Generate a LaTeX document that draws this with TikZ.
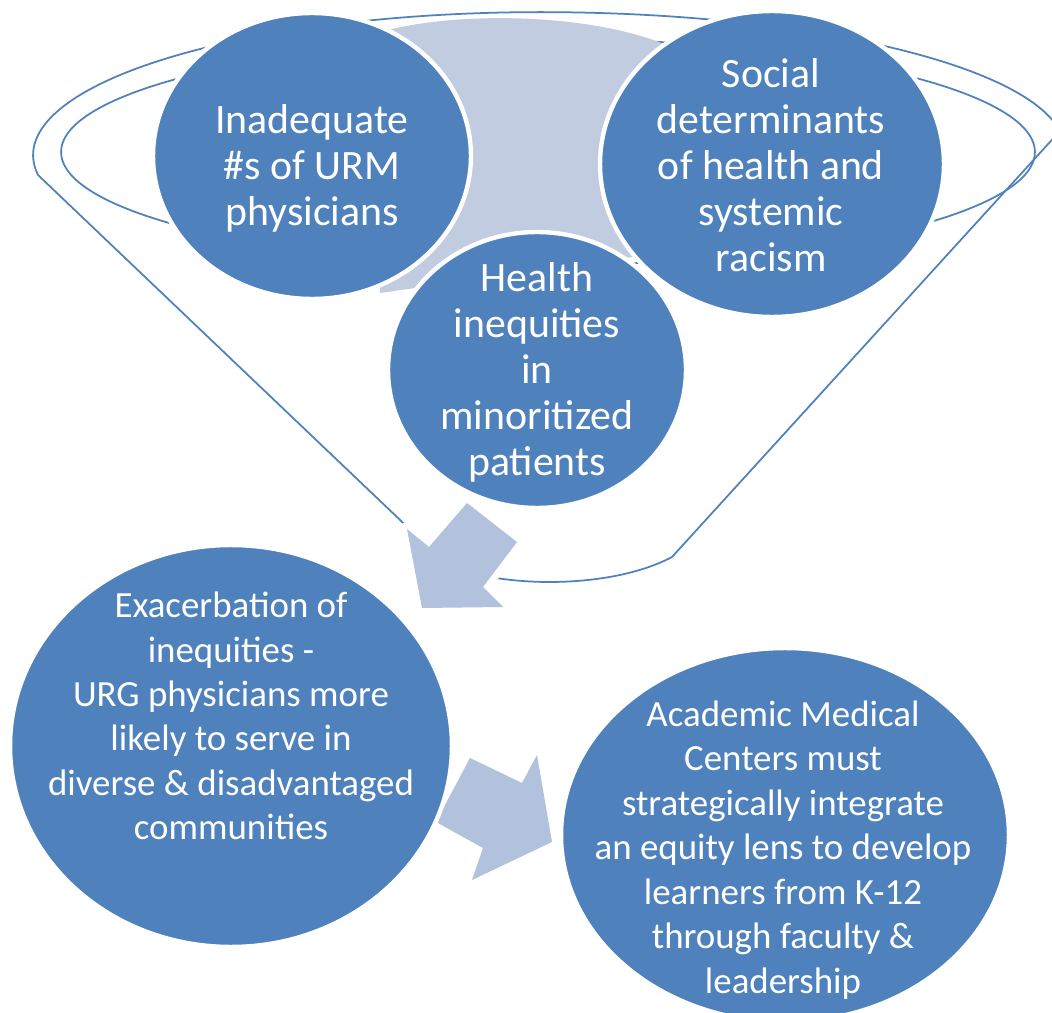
\documentclass[tikz,border=0pt]{standalone}
\usepackage{fontspec}
\setmainfont{Carlito}
\usepackage{tikz}
\usetikzlibrary{shapes.geometric}
\definecolor{discblue}{RGB}{79,129,189}
\definecolor{mouth}{RGB}{194,204,225}
\definecolor{flowblue}{RGB}{178,193,220}
\tikzset{%
  disc/.style      = {ellipse, fill=discblue, draw=white, line width=2.5pt,
    inner sep=0pt},
  words/.style     = {text=white, align=center,
    font=\fontsize{23.8}{26.2}\selectfont}, % funnel circles
  bigwords/.style  = {text=white, align=center,
    font=\fontsize{21}{25.3}\selectfont}, % outcome circles
  rim/.style       = {draw=discblue, line width=1pt},
  flow/.style      = {fill=flowblue,
    preaction={draw=white, line width=8pt, line join=round}}
}

\begin{document}
\begin{tikzpicture}[x=0.02cm, y=-0.02cm]
\clip (0,0) rectangle (1052,1013);
% funnel outline and inner rim
\draw[rim] (1080,109) -- (672,557) .. controls (600,595) and (470,585) .. (440,558)
  -- (38,175)
  arc[start angle=188, end angle=90, x radius=10.14cm, y radius=2.86cm]
  arc[start angle=90, end angle=0, x radius=10.5cm, y radius=2.76cm];
\draw[rim] (548,152) ellipse [x radius=9.74cm, y radius=2.26cm];
\fill[mouth] (368,36) .. controls (440,10) and (600,10) .. (682,52)
  -- (640,256) -- (380,293) -- cycle;
% the three inputs
\draw
	node at(312,156)[disc, name=urm, minimum width=6.36cm, minimum height=5.72cm]{}
	node at(772,164)[disc, name=sdoh, minimum width=6.88cm, minimum height=6.12cm]{}
	node at(537,370)[disc, name=hlth, minimum width=5.96cm, minimum height=5.52cm]{};
\node[words] (urmtext) at (312,168) {Inadequate\\\#s of URM\\physicians};
\node[words] (sdohtext) at (771,165) {Social\\determinants\\of health and\\systemic\\racism};
\node[words] (hlthtext) at (537,372) {Health\\inequities\\in\\minoritized\\patients};
% block arrows
\fill[flow] (467,503) -- (517,542) -- (483,587) -- (503,607) -- (422,608)
  -- (407,529) -- (429,547) -- cycle;
\fill[flow] (470,758) -- (522,783) -- (537,755) -- (552,842) -- (472,880)
  -- (483,848) -- (436,822) -- cycle;
% outcomes
\draw
	node at(231,746)[disc, name=exa, minimum width=8.84cm, minimum height=8.04cm]{}
	node at(785,835)[disc, name=amc, minimum width=8.96cm, minimum height=7.48cm]{};
\node[bigwords] (exatext) at (231,716) {Exacerbation of\\inequities -\\URG physicians more\\likely to serve in\\diverse \& disadvantaged\\communities};
\node[bigwords] (amctext) at (783,850) {Academic Medical\\Centers must\\strategically integrate\\an equity lens to develop\\learners from K-12\\through faculty \&\\leadership};
\end{tikzpicture}
\end{document}
